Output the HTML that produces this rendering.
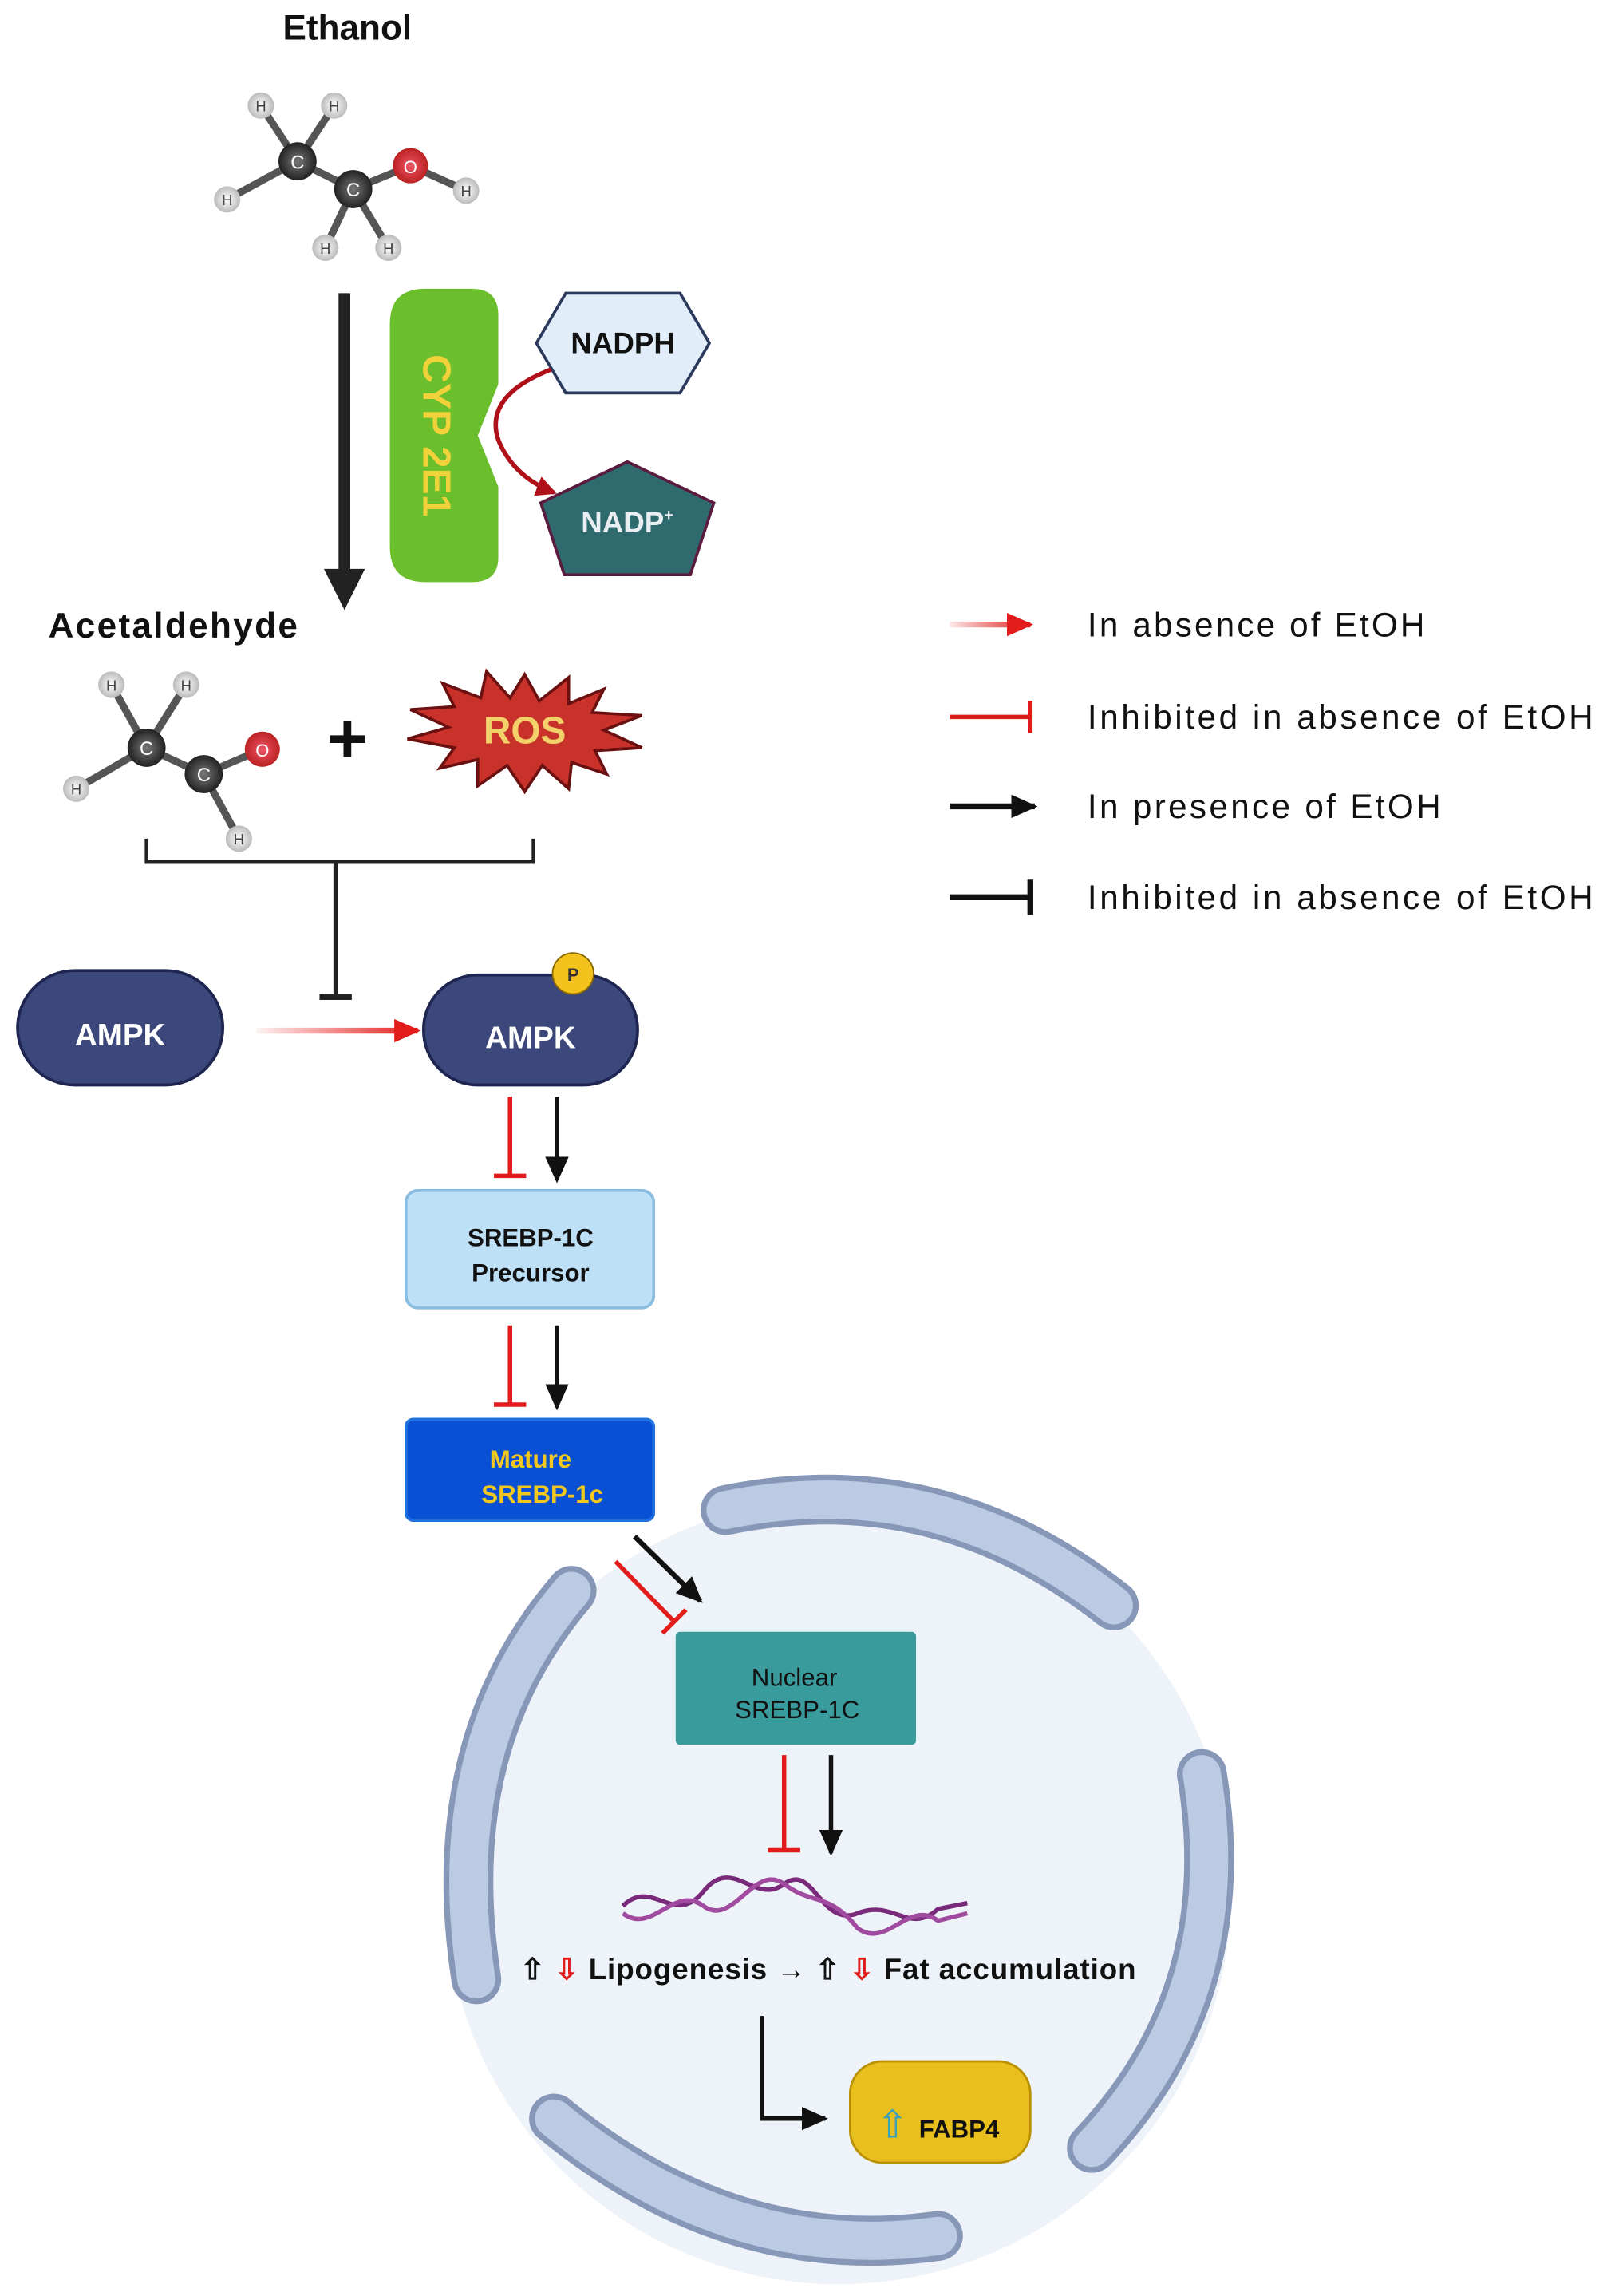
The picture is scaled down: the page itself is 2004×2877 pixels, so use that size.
<!DOCTYPE html>
<html><head><meta charset="utf-8"><style>
html,body{margin:0;padding:0;background:#fff;}
svg{display:block;}
text{font-family:"Liberation Sans",sans-serif;}
</style></head><body>
<svg width="2004" height="2877" viewBox="0 0 1091 1566" preserveAspectRatio="none" xmlns="http://www.w3.org/2000/svg">
<defs>
<marker id="abig" markerWidth="28" markerHeight="30" refX="26" refY="15" orient="auto" markerUnits="userSpaceOnUse"><path d="M0,0 L28,15 L0,30 z" fill="#222"/></marker>
<marker id="ar" markerWidth="18" markerHeight="16" refX="16" refY="8" orient="auto" markerUnits="userSpaceOnUse"><path d="M0,0 L18,8 L0,16 z" fill="#e21b1b"/></marker>
<marker id="ar2" markerWidth="14" markerHeight="14" refX="12" refY="7" orient="auto" markerUnits="userSpaceOnUse"><path d="M0,0 L14,7 L0,14 z" fill="#b0101a"/></marker>
<marker id="ab2" markerWidth="18" markerHeight="16" refX="16" refY="8" orient="auto" markerUnits="userSpaceOnUse"><path d="M0,0 L18,8 L0,16 z" fill="#111"/></marker>
<linearGradient id="rg1" gradientUnits="userSpaceOnUse" x1="175" y1="0" x2="285" y2="0"><stop offset="0" stop-color="#e21b1b" stop-opacity="0.05"/><stop offset="1" stop-color="#e21b1b"/></linearGradient>
<linearGradient id="rg2" gradientUnits="userSpaceOnUse" x1="648" y1="0" x2="703" y2="0"><stop offset="0" stop-color="#e21b1b" stop-opacity="0.1"/><stop offset="1" stop-color="#e21b1b"/></linearGradient>
<radialGradient id="cg"><stop offset="0" stop-color="#777"/><stop offset="1" stop-color="#222"/></radialGradient>
<radialGradient id="hg"><stop offset="0" stop-color="#fff"/><stop offset="1" stop-color="#bbb"/></radialGradient>
<radialGradient id="og"><stop offset="0" stop-color="#e56"/><stop offset="1" stop-color="#b22"/></radialGradient>
</defs>

<text x="237" y="27" font-size="24" font-weight="bold" text-anchor="middle" fill="#111">Ethanol</text>
<g stroke="#555" stroke-width="5">
<line x1="203" y1="110" x2="178" y2="72"/><line x1="203" y1="110" x2="228" y2="72"/><line x1="203" y1="110" x2="155" y2="136"/>
<line x1="203" y1="110" x2="241" y2="129"/><line x1="241" y1="129" x2="280" y2="113"/><line x1="280" y1="113" x2="318" y2="130"/>
<line x1="241" y1="129" x2="222" y2="169"/><line x1="241" y1="129" x2="265" y2="169"/></g>
<g font-size="10" text-anchor="middle" fill="#444">
<circle cx="178" cy="72" r="9" fill="url(#hg)"/><text x="178" y="76">H</text>
<circle cx="228" cy="72" r="9" fill="url(#hg)"/><text x="228" y="76">H</text>
<circle cx="155" cy="136" r="9" fill="url(#hg)"/><text x="155" y="140">H</text>
<circle cx="318" cy="130" r="9" fill="url(#hg)"/><text x="318" y="134">H</text>
<circle cx="222" cy="169" r="9" fill="url(#hg)"/><text x="222" y="173">H</text>
<circle cx="265" cy="169" r="9" fill="url(#hg)"/><text x="265" y="173">H</text>
<circle cx="203" cy="110" r="13" fill="url(#cg)"/><text x="203" y="115" fill="#fff" font-size="13">C</text>
<circle cx="241" cy="129" r="13" fill="url(#cg)"/><text x="241" y="134" fill="#fff" font-size="13">C</text>
<circle cx="280" cy="113" r="12" fill="url(#og)"/><text x="280" y="118" fill="#fff" font-size="12">O</text></g>

<line x1="235" y1="200" x2="235" y2="390" stroke="#222" stroke-width="8"/>
<path d="M221,388 L249,388 L235,416 Z" fill="#222"/>

<path d="M290,197 H322 Q340,197 340,215 V262 L326,297 L340,332 V380 Q340,397 322,397 H290 Q266,397 266,373 V221 Q266,197 290,197 Z" fill="#6cbf2c"/>
<text transform="translate(296,297) rotate(90)" font-size="27" font-weight="bold" fill="#f2d23a" text-anchor="middle" dominant-baseline="middle">CYP 2E1</text>

<polygon points="366,234 386,200 464,200 484,234 464,268 386,268" fill="#e1eefa" stroke="#2b3a5c" stroke-width="2"/>
<text x="425" y="241" font-size="20" font-weight="bold" text-anchor="middle" fill="#111">NADPH</text>
<polygon points="428,315 487,343 471,392 385,392 369,343" fill="#2f6a6e" stroke="#5a1b3e" stroke-width="2"/>
<text x="428" y="363" font-size="20" font-weight="bold" text-anchor="middle" fill="#e8eef2">NADP<tspan font-size="11" dy="-8">+</tspan></text>
<path d="M376,252 Q330,270 340,300 Q350,325 378,336" fill="none" stroke="#b0101a" stroke-width="3" marker-end="url(#ar2)"/>

<text x="33" y="435" font-size="24" font-weight="bold" fill="#111" textLength="170">Acetaldehyde</text>
<g stroke="#555" stroke-width="5">
<line x1="100" y1="510" x2="76" y2="467"/><line x1="100" y1="510" x2="127" y2="467"/><line x1="100" y1="510" x2="52" y2="538"/>
<line x1="100" y1="510" x2="139" y2="528"/><line x1="139" y1="528" x2="179" y2="511"/><line x1="139" y1="528" x2="163" y2="572"/></g>
<g font-size="10" text-anchor="middle" fill="#444">
<circle cx="76" cy="467" r="9" fill="url(#hg)"/><text x="76" y="471">H</text>
<circle cx="127" cy="467" r="9" fill="url(#hg)"/><text x="127" y="471">H</text>
<circle cx="52" cy="538" r="9" fill="url(#hg)"/><text x="52" y="542">H</text>
<circle cx="163" cy="572" r="9" fill="url(#hg)"/><text x="163" y="576">H</text>
<circle cx="100" cy="510" r="13" fill="url(#cg)"/><text x="100" y="515" fill="#fff" font-size="13">C</text>
<circle cx="139" cy="528" r="13" fill="url(#cg)"/><text x="139" y="533" fill="#fff" font-size="13">C</text>
<circle cx="179" cy="511" r="12" fill="url(#og)"/><text x="179" y="516" fill="#fff" font-size="12">O</text></g>
<text x="237" y="520" font-size="48" font-weight="bold" text-anchor="middle" fill="#111">+</text>

<polygon points="358,460 368,478 388,462 388,480 412,470 404,486 438,488 412,498 438,510 406,512 414,528 390,520 388,538 370,522 358,540 346,522 326,536 326,518 300,524 310,510 278,504 306,496 280,484 310,482 302,466 328,476 332,458 348,476" fill="#c8322a" stroke="#6a1010" stroke-width="2"/>
<text x="358" y="507" font-size="26" font-weight="bold" text-anchor="middle" fill="#f2d06a">ROS</text>

<path d="M100,572 V588 H364 V572" fill="none" stroke="#222" stroke-width="2.5"/>
<line x1="229" y1="588" x2="229" y2="680" stroke="#222" stroke-width="3"/>
<line x1="218" y1="680" x2="240" y2="680" stroke="#222" stroke-width="4"/>

<rect x="12" y="662" width="140" height="78" rx="39" fill="#3c477b" stroke="#1e2550" stroke-width="2"/>
<text x="82" y="713" font-size="21" font-weight="bold" text-anchor="middle" fill="#fff">AMPK</text>
<line x1="175" y1="703" x2="285" y2="703" stroke="url(#rg1)" stroke-width="4" marker-end="url(#ar)"/>
<rect x="289" y="665" width="146" height="75" rx="37" fill="#3c477b" stroke="#1e2550" stroke-width="2"/>
<text x="362" y="715" font-size="21" font-weight="bold" text-anchor="middle" fill="#fff">AMPK</text>
<circle cx="391" cy="664" r="14" fill="#f4c21d" stroke="#8a6a00" stroke-width="1"/>
<text x="391" y="669" font-size="12" font-weight="bold" text-anchor="middle" fill="#333">P</text>

<line x1="348" y1="748" x2="348" y2="802" stroke="#e21b1b" stroke-width="3"/><line x1="337" y1="802" x2="359" y2="802" stroke="#e21b1b" stroke-width="3"/>
<line x1="380" y1="748" x2="380" y2="805" stroke="#111" stroke-width="3" marker-end="url(#ab2)"/>

<rect x="277" y="812" width="169" height="80" rx="8" fill="#bee0f6" stroke="#8bbde0" stroke-width="2"/>
<text x="362" y="850" font-size="17" font-weight="bold" text-anchor="middle" fill="#111">SREBP-1C</text>
<text x="362" y="874" font-size="17" font-weight="bold" text-anchor="middle" fill="#111">Precursor</text>

<line x1="348" y1="904" x2="348" y2="958" stroke="#e21b1b" stroke-width="3"/><line x1="337" y1="958" x2="359" y2="958" stroke="#e21b1b" stroke-width="3"/>
<line x1="380" y1="904" x2="380" y2="960" stroke="#111" stroke-width="3" marker-end="url(#ab2)"/>

<rect x="277" y="968" width="169" height="69" rx="5" fill="#0a50d4" stroke="#2070e0" stroke-width="2"/>
<text x="362" y="1001" font-size="17" font-weight="bold" text-anchor="middle" fill="#f2c81e">Mature</text>
<text x="370" y="1025" font-size="17" font-weight="bold" text-anchor="middle" fill="#f2c81e">SREBP-1c</text>

<circle cx="572" cy="1290" r="268" fill="#eef3f9"/>
<g fill="none" stroke-linecap="round">
<g stroke="#8797b8" stroke-width="34">
<path d="M495,1030 Q640,1000 760,1095"/><path d="M390,1085 Q300,1190 325,1350"/><path d="M378,1445 Q500,1545 640,1525"/><path d="M820,1210 Q845,1360 745,1465"/></g>
<g stroke="#bccbe4" stroke-width="26">
<path d="M495,1030 Q640,1000 760,1095"/><path d="M390,1085 Q300,1190 325,1350"/><path d="M378,1445 Q500,1545 640,1525"/><path d="M820,1210 Q845,1360 745,1465"/></g></g>

<line x1="433" y1="1048" x2="478" y2="1092" stroke="#111" stroke-width="3.5" marker-end="url(#ab2)"/>
<line x1="420" y1="1065" x2="460" y2="1106" stroke="#e21b1b" stroke-width="3"/><line x1="452" y1="1114" x2="468" y2="1098" stroke="#e21b1b" stroke-width="3"/>

<rect x="461" y="1113" width="164" height="77" rx="3" fill="#3a9b9c"/>
<text x="542" y="1150" font-size="17" text-anchor="middle" fill="#111">Nuclear</text>
<text x="544" y="1172" font-size="17" text-anchor="middle" fill="#111">SREBP-1C</text>

<line x1="535" y1="1197" x2="535" y2="1262" stroke="#e21b1b" stroke-width="3"/><line x1="524" y1="1262" x2="546" y2="1262" stroke="#e21b1b" stroke-width="3"/>
<line x1="567" y1="1197" x2="567" y2="1264" stroke="#111" stroke-width="3" marker-end="url(#ab2)"/>

<g fill="none" stroke-width="3">
<path d="M425,1300 C445,1280 460,1315 480,1290 C500,1265 515,1300 535,1285 C555,1270 560,1315 585,1305 C610,1295 620,1320 640,1302 L660,1298" stroke="#7a2a7a"/>
<path d="M425,1305 C445,1320 460,1285 480,1300 C500,1315 515,1270 535,1285 C555,1300 565,1290 585,1315 C605,1330 620,1295 640,1310 L660,1305" stroke="#a04aa0"/>
</g>

<text x="355" y="1350" font-size="20" font-weight="bold" fill="#111" textLength="420"><tspan>⇧ </tspan><tspan fill="#e21b1b">⇩</tspan><tspan> Lipogenesis → ⇧ </tspan><tspan fill="#e21b1b">⇩</tspan><tspan> Fat accumulation</tspan></text>

<path d="M520,1375 V1445 H563" fill="none" stroke="#111" stroke-width="3" marker-end="url(#ab2)"/>
<rect x="580" y="1406" width="123" height="69" rx="22" fill="#e9bf1e" stroke="#b89000" stroke-width="1.5"/>
<text x="598" y="1458" font-size="26" fill="#3aa0b5">⇧</text>
<text x="627" y="1458" font-size="17" font-weight="bold" fill="#111">FABP4</text>

<line x1="648" y1="426" x2="703" y2="426" stroke="url(#rg2)" stroke-width="4" marker-end="url(#ar)"/>
<line x1="648" y1="489" x2="703" y2="489" stroke="#e21b1b" stroke-width="3"/><line x1="703" y1="478" x2="703" y2="500" stroke="#e21b1b" stroke-width="3"/>
<line x1="648" y1="550" x2="706" y2="550" stroke="#111" stroke-width="4" marker-end="url(#ab2)"/>
<line x1="648" y1="612" x2="703" y2="612" stroke="#111" stroke-width="4"/><line x1="703" y1="600" x2="703" y2="624" stroke="#111" stroke-width="4"/>
<g font-size="23" fill="#111">
<text x="742" y="434" textLength="230">In absence of EtOH</text>
<text x="742" y="497" textLength="345">Inhibited in absence of EtOH</text>
<text x="742" y="558" textLength="241">In presence of EtOH</text>
<text x="742" y="620" textLength="345">Inhibited in absence of EtOH</text></g>
</svg>
</body></html>
